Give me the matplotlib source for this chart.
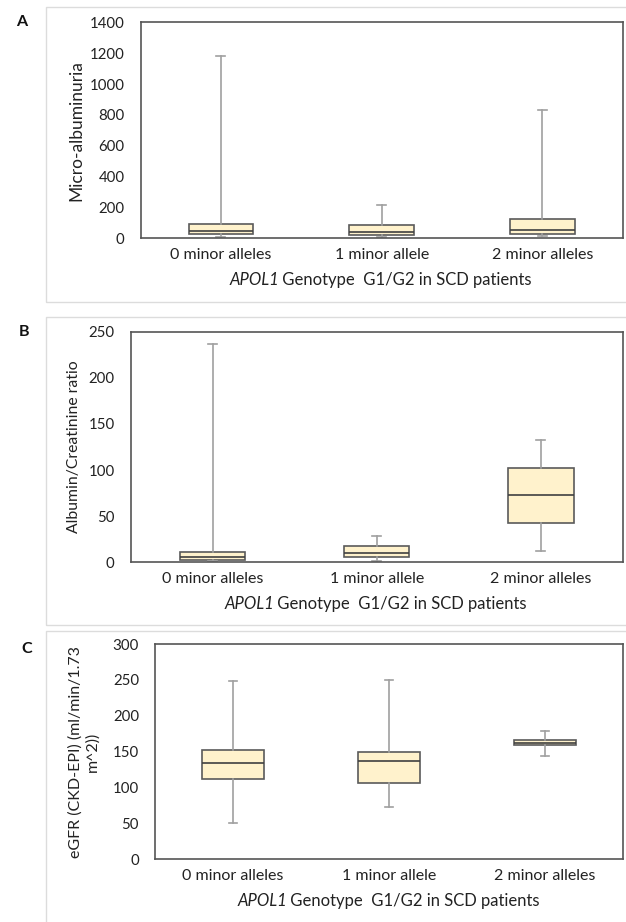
import matplotlib
matplotlib.use("Agg")
import matplotlib.pyplot as plt
from matplotlib.patches import Rectangle

plt.rcParams['font.family'] = ['Lato', 'DejaVu Sans']

categories = ["0 minor alleles", "1 minor allele", "2 minor alleles"]
xlabel_italic = "APOL1"
xlabel_rest = " Genotype  G1/G2 in SCD patients"

# Panel A: Micro-albuminuria
a_whislo = [6, 6, 14]
a_q1 = [27, 22, 28]
a_med = [50, 41, 55]
a_q3 = [90, 88, 125]
a_whishi = [1181, 215, 831]

# Panel B: Albumin/Creatinine ratio
b_whislo = [1, 1.2, 12.5]
b_q1 = [3, 5.4, 42.5]
b_med = [6, 10.3, 72.5]
b_q3 = [11.5, 17.7, 102]
b_whishi = [237, 28.7, 133]

# Panel C: eGFR
c_whislo = [50, 73, 143.5]
c_q1 = [111.6, 106, 158.8]
c_med = [133.8, 137.5, 162]
c_q3 = [152.3, 150, 166.7]
c_whishi = [248.6, 249.5, 178.2]

W, H = 626, 922
fig = plt.figure(figsize=(W / 100, H / 100), dpi=100)
renderer = fig.canvas.get_renderer()

def fx(px):
    return px / W

def fy(py):
    return 1 - py / H

TXT = '#222222'

# outer light frames
frames = [(45.5, 7.3, 700, 301.7), (45.5, 317.3, 700, 625), (45.5, 630.7, 700, 960)]
for (l, t, r, b) in frames:
    fig.patches.append(Rectangle((fx(l), fy(b)), fx(r - l), (b - t) / H,
                                 transform=fig.transFigure, fill=False,
                                 edgecolor='#dcdcdc', linewidth=1.0))

panels = [
    dict(letter='A', lxy=(16, 22.5), box=(140.5, 22.3, 622.8, 238.3),
         stats=(a_whislo, a_q1, a_med, a_q3, a_whishi), ylim=(0, 1400), step=200,
         ylabel='Micro-albuminuria', ylx=76, ylfs=12.5),
    dict(letter='B', lxy=(18.5, 331.7), box=(130.5, 331.7, 622.8, 562.3),
         stats=(b_whislo, b_q1, b_med, b_q3, b_whishi), ylim=(0, 250), step=50,
         ylabel='Albumin/Creatinine ratio', ylx=74, ylfs=11.3),
    dict(letter='C', lxy=(21, 649), box=(155, 644, 622.8, 859.3),
         stats=(c_whislo, c_q1, c_med, c_q3, c_whishi), ylim=(0, 300), step=50,
         ylabel='eGFR (CKD-EPI) (ml/min/1.73\nm^2))', ylx=84, ylfs=11.5),
]

for p in panels:
    l, t, r, b = p['box']
    ax = fig.add_axes([fx(l), fy(b), fx(r - l), (b - t) / H])
    whislo, q1, med, q3, whishi = p['stats']
    bstats = []
    for i in range(len(categories)):
        bstats.append(dict(whislo=whislo[i], q1=q1[i], med=med[i], q3=q3[i],
                           whishi=whishi[i], fliers=[], label=categories[i]))
    ax.bxp(bstats, positions=range(len(categories)), widths=0.4,
           capwidths=0.055, patch_artist=True, showfliers=False,
           boxprops=dict(facecolor='#fff2cc', edgecolor='#5a5a5a', linewidth=1.2),
           medianprops=dict(color='#404040', linewidth=1.2),
           whiskerprops=dict(color='#a0a0a0', linewidth=1.2),
           capprops=dict(color='#a0a0a0', linewidth=1.2))
    ax.set_xlim(-0.5, 2.5)
    ax.set_ylim(*p['ylim'])
    ax.set_yticks(range(p['ylim'][0], p['ylim'][1] + 1, p['step']))
    ax.tick_params(axis='both', length=0, colors=TXT)
    ax.tick_params(axis='y', pad=11.5, labelsize=10.8)
    ax.tick_params(axis='x', pad=7, labelsize=11.5)
    ax.set_xticks(range(len(categories)))
    ax.set_xticklabels(categories)
    for s in ax.spines.values():
        s.set_color('#555555')
        s.set_linewidth(1.2)

    # y label
    yc = (t + b) / 2
    fig.text(fx(p['ylx']), fy(yc), p['ylabel'], rotation=90, fontsize=p['ylfs'],
             color=TXT, ha='center', va='center', linespacing=1.3,
             multialignment='center')

    # x label with italic gene name
    t1 = fig.text(0, 0, xlabel_italic, fontsize=12, style='italic', color=TXT,
                  ha='left', va='center')
    t2 = fig.text(0, 0, xlabel_rest, fontsize=12, color=TXT,
                  ha='left', va='center')
    w1 = t1.get_window_extent(renderer).width
    w2 = t2.get_window_extent(renderer).width
    xc = (l + r) / 2
    x0 = xc - (w1 + w2) / 2
    ylab = b + 41.5
    t1.set_position((fx(x0), fy(ylab)))
    t2.set_position((fx(x0 + w1 - 1.5), fy(ylab)))

    fig.text(fx(p['lxy'][0]), fy(p['lxy'][1]), p['letter'], fontsize=11.5,
             fontweight='bold', ha='left', va='center', color='#111111')

fig.savefig('out.png', dpi=100)
